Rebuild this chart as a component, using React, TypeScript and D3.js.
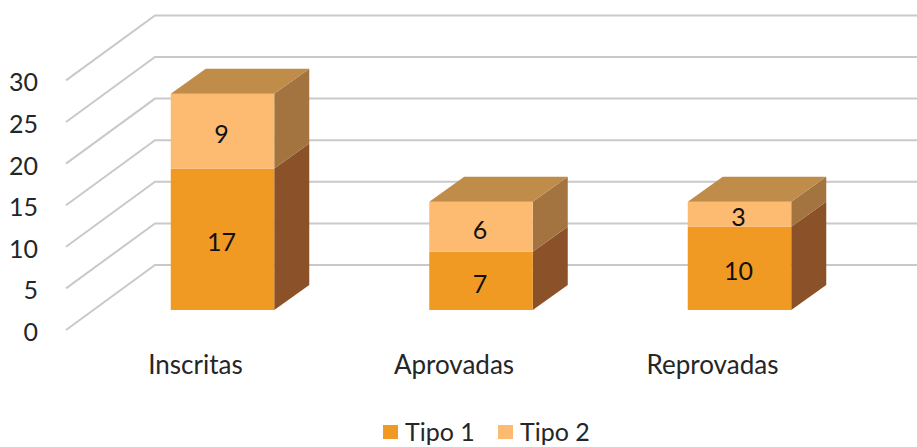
import React from "react";
import * as d3 from "d3";

const categories = ["Inscritas", "Aprovadas", "Reprovadas"];
const tipo1 = [17, 7, 10];
const tipo2 = [9, 6, 3];
const ticks = [0, 5, 10, 15, 20, 25, 30];
const seriesNames = ["Tipo 1", "Tipo 2"];

const W = 917, H = 447;
const font = "Lato, 'Open Sans', sans-serif";
const ink = "#262626";
const y = d3.scaleLinear().domain([0, 30]).range([310, 60.4]);
const x = d3.scaleBand().domain(categories).range([93.25, 868.75]);
const barW = 103.5;
const dx = 35, dy = 25;
const wallDx = 89, wallDy = 65;

const colors = {
  front: ["#F09A24", "#FDBB72"],
  side: ["#8B5128", "#A3743F"],
  top: "#BF8C4A",
};

function poly(pts: [number, number][]) {
  return d3.line()(pts)! + "Z";
}

export default function App() {
  const stack = d3.stack<number>().keys(["0", "1"]).value((i, k) => (k === "0" ? tipo1 : tipo2)[i])(
    categories.map((_, i) => i)
  );
  return (
    <svg width={W} height={H} style={{ position: "absolute", left: 0, top: 0, background: "#fff" }} fontFamily={font}>
      {ticks.map((t) => {
        const yf = y(t) + 20;
        return (
          <g key={t}>
            <path
              d={d3.line()([
                [66, yf],
                [66 + wallDx, yf - wallDy],
                [W, yf - wallDy],
              ])!}
              fill="none"
              stroke="#C9C9C9"
              strokeWidth={2}
            />
            <text x={38} y={yf + 11} textAnchor="end" fontSize={25} fill={ink}>
              {t}
            </text>
          </g>
        );
      })}
      {categories.map((c, i) => {
        const x0 = x(c)! + (x.bandwidth() - barW) / 2;
        const x1 = x0 + barW;
        return (
          <g key={c}>
            {stack.map((s, k) => {
              const yb = y(s[i][0]);
              const yt = y(s[i][1]);
              return (
                <g key={k}>
                  <path
                    d={poly([
                      [x1, yb],
                      [x1 + dx, yb - dy],
                      [x1 + dx, yt - dy],
                      [x1, yt],
                    ])}
                    fill={colors.side[k]}
                  />
                  <rect x={x0} y={yt} width={barW} height={yb - yt} fill={colors.front[k]} />
                  <text
                    x={(x0 + x1) / 2 - 1}
                    y={(yb + yt) / 2 + 12}
                    textAnchor="middle"
                    fontSize={25}
                    fill="#111"
                  >
                    {s[i][1] - s[i][0]}
                  </text>
                </g>
              );
            })}
            <path
              d={poly([
                [x0, y(tipo1[i] + tipo2[i])],
                [x0 + dx, y(tipo1[i] + tipo2[i]) - dy],
                [x1 + dx, y(tipo1[i] + tipo2[i]) - dy],
                [x1, y(tipo1[i] + tipo2[i])],
              ])}
              fill={colors.top}
            />
            <text x={(x0 + x1) / 2 - 27} y={374} textAnchor="middle" fontSize={26} fill={ink}>
              {c}
            </text>
          </g>
        );
      })}
      {seriesNames.map((n, k) => {
        const lx = [383, 498][k];
        return (
          <g key={n}>
            <rect x={lx} y={425} width={15} height={14} fill={colors.front[k]} />
            <text x={lx + 22} y={441} fontSize={25} fill={ink}>
              {n}
            </text>
          </g>
        );
      })}
    </svg>
  );
}
